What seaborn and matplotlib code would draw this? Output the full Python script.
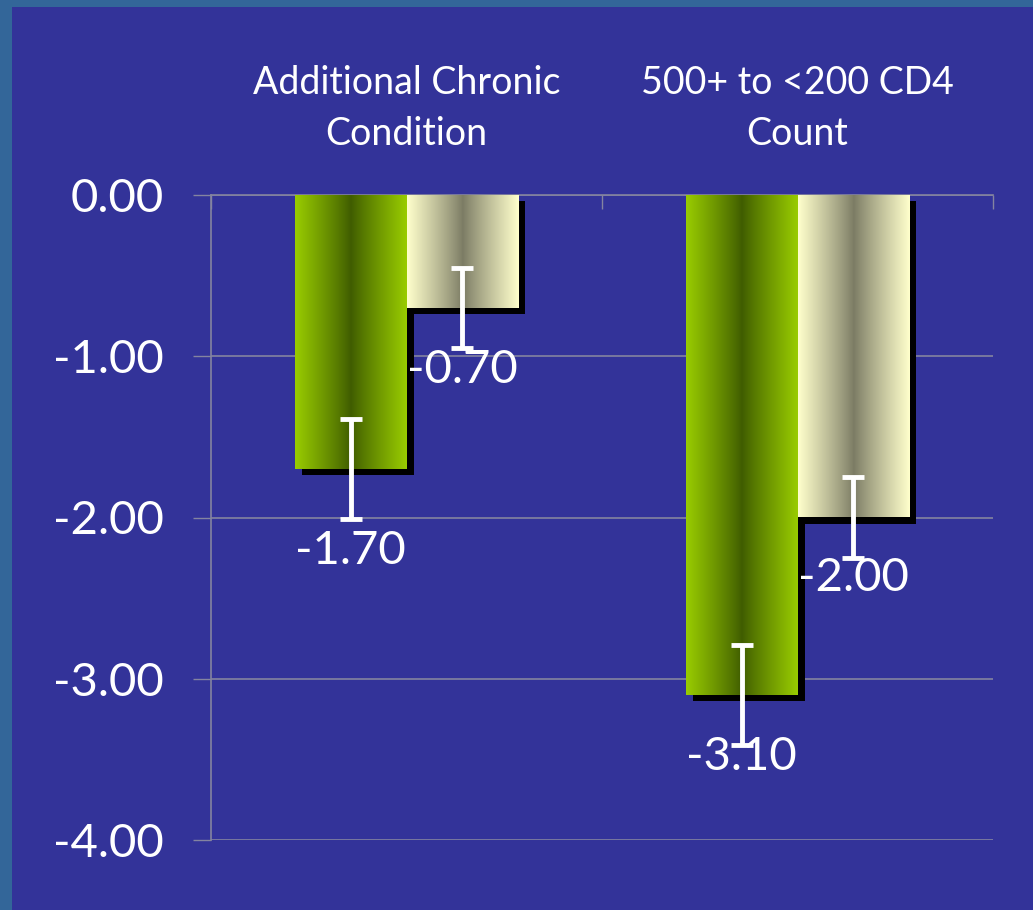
import numpy as np
import pandas as pd
import matplotlib
matplotlib.use("Agg")
import matplotlib.pyplot as plt
import matplotlib.transforms as mtransforms
from matplotlib.patches import Rectangle
from matplotlib.colors import to_rgb
import seaborn as sns

# ---- data ----
categories = ["Additional Chronic\nCondition", "500+ to <200 CD4\nCount"]
series_names = ["Series 1", "Series 2"]
series1_values = [-1.70, -3.10]
series2_values = [-0.70, -2.00]
series1_err = [0.31, 0.31]
series2_err = [0.25, 0.25]
y_ticks = [0.0, -1.0, -2.0, -3.0, -4.0]

# ---- style ----
BG_OUTER = "#336699"
BG_INNER = "#333399"
GRID = "#8484a0"
bar_light = ["#99CC00", "#FFFFCC"]
bar_dark = ["#3F5C00", "#7B7B64"]
label_drop = [0.51, 0.385, 0.385, 0.375]   # label offset below each bar end
FONT = "Lato"

sns.set_style("white")
plt.rcParams["font.family"] = [FONT, "DejaVu Sans"]

W, H = 1033, 910
fig = plt.figure(figsize=(W / 100, H / 100), dpi=100, facecolor=BG_OUTER)
fig.add_artist(Rectangle((12 / W, 0), 1, 1 - 7 / H, transform=fig.transFigure,
                         facecolor=BG_INNER, edgecolor="none", zorder=-10))

ax = fig.add_axes([211 / W, 1 - 840 / H, (993 - 211) / W, (840 - 195) / H])
ax.set_facecolor("none")

df = pd.DataFrame({
    "category": categories * 2,
    "series": [series_names[0]] * 2 + [series_names[1]] * 2,
    "value": series1_values + series2_values,
    "err": series1_err + series2_err,
})

sns.barplot(data=df, x="category", y="value", hue="series", order=categories,
            hue_order=series_names, palette=bar_light, saturation=1,
            width=0.57, gap=0, errorbar=None, legend=False, ax=ax, zorder=3)

# gradient fill + drop shadow for each bar
shadow_tr = ax.transData + mtransforms.ScaledTranslation(0.07, -0.06, fig.dpi_scale_trans)
u = np.linspace(0, 1, 256)
prof = np.abs(2 * u - 1) ** 0.9
bars = list(ax.patches)
for i, p in enumerate(bars):
    s = i // len(categories)
    x, w, h = p.get_x(), p.get_width(), p.get_height()
    ax.add_patch(Rectangle((x, 0), w, h, facecolor="black", edgecolor="none",
                           transform=shadow_tr, zorder=2))
    lo = np.array(to_rgb(bar_dark[s]))
    hi = np.array(to_rgb(bar_light[s]))
    grad = lo[None, :] + (hi - lo)[None, :] * prof[:, None]
    ax.imshow(grad[None, :, :], extent=(x, x + w, h, 0), aspect="auto",
              interpolation="bilinear", zorder=3)
    p.set_visible(False)

# error bars and value labels
for i, p in enumerate(bars):
    row = df.iloc[i]
    cx = p.get_x() + p.get_width() / 2
    _, caps, lines = ax.errorbar(cx, row["value"], yerr=row["err"], fmt="none",
                                 ecolor="white", elinewidth=3.5, capsize=8,
                                 capthick=3.5, zorder=5)
    for c in caps:
        c.set_solid_capstyle("round")
    ax.text(cx, row["value"] - label_drop[i], f"{row['value']:.2f}",
            ha="center", va="center", color="white", fontsize=34, zorder=6)

ax.set_xlim(-0.5, 1.5)
ax.set_ylim(-4, 0)
ax.set_xlabel("")
ax.set_ylabel("")

ax.set_yticks(y_ticks)
ax.set_yticklabels([f"{v:.2f}" for v in y_ticks])
ax.tick_params(axis="y", direction="out", length=13, width=1, color=GRID,
               labelcolor="white", labelsize=34, pad=21, left=True)
ax.yaxis.grid(True, color=GRID, linewidth=1.2)
ax.xaxis.grid(False)
ax.set_axisbelow(True)

ax.xaxis.tick_top()
ax.set_xticks([0, 1])
ax.set_xticklabels(categories)
ax.set_xticks([-0.5, 0.5, 1.5], minor=True)
ax.tick_params(axis="x", which="major", length=0, labelcolor="white",
               labelsize=27, pad=31)
ax.tick_params(axis="x", which="minor", direction="in", length=10, width=1,
               color=GRID, top=True, bottom=False)
for lbl in ax.get_xticklabels():
    lbl.set_linespacing(1.5)

for side in ["right", "bottom"]:
    ax.spines[side].set_visible(False)
for side in ["left", "top"]:
    ax.spines[side].set_color(GRID)
    ax.spines[side].set_linewidth(1.2)

fig.savefig("out.png", dpi=100, facecolor=BG_OUTER)
